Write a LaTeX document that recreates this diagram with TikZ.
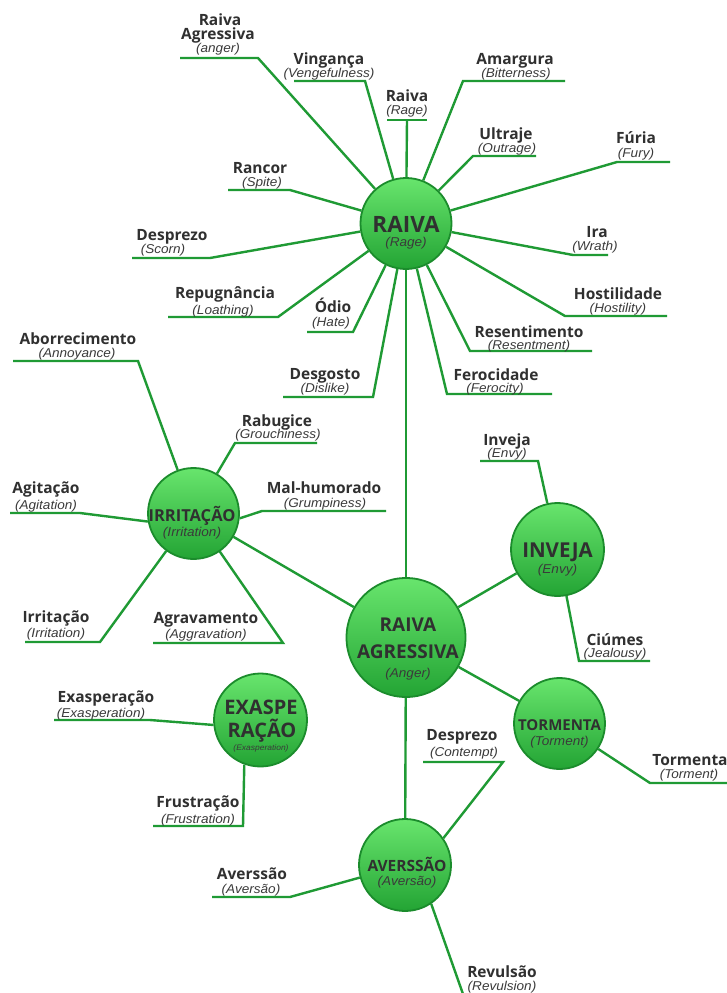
\documentclass[tikz,border=0pt]{standalone}
\usepackage{fontspec}
\newfontfamily\lblfont{Open Sans}
\newfontfamily\engfont{Liberation Sans}[FakeStretch=1.06]

\definecolor{lnc}{HTML}{1F9A34}
\definecolor{bubtop}{HTML}{68E56D}
\definecolor{bubbot}{HTML}{23A434}
\definecolor{bubrim}{HTML}{1B8C2C}
\definecolor{txt}{HTML}{303030}
\definecolor{txti}{HTML}{3A3A3A}

\pgfdeclarelayer{paper}
\pgfdeclarelayer{lines}
\pgfsetlayers{paper,lines,main}

\tikzset{
  bubble/.style={circle, draw=bubrim, line width=1.8pt, top color=bubtop,
    bottom color=bubbot, inner sep=0pt, minimum size=#1},
  conn/.style={draw=lnc, line width=2.4pt},
  bt/.style={anchor=base, inner sep=0pt, text=txt,
    font=\lblfont\bfseries\fontsize{15.5}{16}\selectfont},
  it/.style={anchor=base, inner sep=0pt, text=txti,
    font=\engfont\itshape\fontsize{12.8}{13}\selectfont},
  hb/.style={anchor=base, inner sep=0pt, text=txt,
    font=\lblfont\bfseries\fontsize{#1}{#1}\selectfont},
  hi/.style={anchor=base, inner sep=0pt, text=txti,
    font=\engfont\itshape\fontsize{#1}{#1}\selectfont},
}

% label pair: id, bold x, bold baseline, italic x, italic baseline, bold, italic
\newcommand\leafnote[7]{%
  \node[bt] (#1b) at (#2,#3) {#6};
  \node[it] (#1i) at (#4,#5) {#7};}
% spoke: id, hub, bend x, far x, underline y
\newcommand\spokeline[5]{%
  \coordinate (#1k) at (#3,#5);
  \coordinate (#1e) at (#4,#5);
  \draw[conn] (#2) -- (#1k) -- (#1e);}

\begin{document}
\begin{tikzpicture}[x=1pt,y=-1pt]
\useasboundingbox (0,0) rectangle (727,993);
\begin{pgfonlayer}{paper}
  \fill[white] (0,0) rectangle (727,993);
\end{pgfonlayer}

% ---- hubs ----
\node[bubble=91]  (raiva)  at (406,223.5) {};
\node[bubble=119] (anger)  at (406,637.5) {};
\node[bubble=91]  (irrit)  at (193.5,513.5) {};
\node[bubble=93]  (inveja) at (557.5,549.5) {};
\node[bubble=91]  (torm)   at (559.5,723.5) {};
\node[bubble=93]  (exas)   at (260.5,720) {};
\node[bubble=92]  (avers)  at (405,865) {};

\node[hb=22.5] (raivaT)  at (406,232) {RAIVA};
\node[hi=12.8] (raivaE)  at (406,246) {(Rage)};
\node[hb=19]   (angerT1) at (408,631) {RAIVA};
\node[hb=19]   (angerT2) at (408,658) {AGRESSIVA};
\node[hi=12.8] (angerE)  at (408,677) {(Anger)};
\node[hb=16.5] (irritT)  at (192,521) {IRRITAÇÃO};
\node[hi=12.8] (irritE)  at (192,536) {(Irritation)};
\node[hb=20.5] (invejaT) at (557.5,557) {INVEJA};
\node[hi=12.8] (invejaE) at (557.5,573) {(Envy)};
\node[hb=15]   (tormT)   at (559.5,730) {TORMENTA};
\node[hi=12.8] (tormE)   at (559.5,745) {(Torment)};
\node[hb=20]   (exasT1)  at (261,714) {EXASPE};
\node[hb=20]   (exasT2)  at (262,737) {RAÇÃO};
\node[hi=8]    (exasE)   at (261,750) {(Exasperation)};
\node[hb=15.5] (aversT)  at (407,871) {AVERSSÃO};
\node[hi=12.8] (aversE)  at (407,885) {(Aversão)};

% ---- labels around RAIVA ----
\node[bt] (ragb1) at (220,25) {Raiva};
\node[bt] (ragb2) at (218,39) {Agressiva};
\node[it] (ragi)  at (218,52) {(anger)};
\leafnote{vin}{329}{64}{329}{77}{Vingança}{(Vengefulness)}
\leafnote{rav}{407}{101}{407}{114}{Raiva}{(Rage)}
\leafnote{ama}{515}{64}{516}{77}{Amargura}{(Bitterness)}
\leafnote{ult}{506}{139}{507}{152}{Ultraje}{(Outrage)}
\leafnote{fur}{636}{143}{636}{157}{Fúria}{(Fury)}
\leafnote{ira}{597}{237}{595}{250}{Ira}{(Wrath)}
\leafnote{hos}{618}{299}{618}{312}{Hostilidade}{(Hostility)}
\leafnote{res}{529}{337}{529}{349}{Resentimento}{(Resentment)}
\leafnote{fer}{496}{380}{495}{392}{Ferocidade}{(Ferocity)}
\leafnote{des}{325}{379}{325}{392}{Desgosto}{(Dislike)}
\leafnote{odi}{333}{312}{331}{326}{Ódio}{(Hate)}
\leafnote{rep}{225}{298}{223}{314}{Repugnância}{(Loathing)}
\leafnote{dsp}{172}{240}{163}{253}{Desprezo}{(Scorn)}
\leafnote{ran}{260}{173}{262}{186}{Rancor}{(Spite)}

% ---- labels around IRRITAÇÃO ----
\leafnote{abo}{78}{344}{77}{357}{Aborrecimento}{(Annoyance)}
\leafnote{rab}{277}{426}{278}{438}{Rabugice}{(Grouchiness)}
\leafnote{mal}{324}{493}{325}{507}{Mal-humorado}{(Grumpiness)}
\leafnote{agi}{46}{493}{46}{509}{Agitação}{(Agitation)}
\leafnote{irr}{56}{622}{56}{637}{Irritação}{(Irritation)}
\leafnote{agr}{206}{623}{206}{638}{Agravamento}{(Aggravation)}

% ---- other labels ----
\leafnote{inv}{507}{445}{507}{457}{Inveja}{(Envy)}
\leafnote{ciu}{615}{645}{615}{657}{Ciúmes}{(Jealousy)}
\leafnote{tor}{690}{765}{689}{778}{Tormenta}{(Torment)}
\leafnote{exa}{106}{702}{101}{717}{Exasperação}{(Exasperation)}
\leafnote{fru}{198}{807}{198}{823}{Frustração}{(Frustration)}
\leafnote{dco}{462}{740}{464}{756}{Desprezo}{(Contempt)}
\leafnote{ave}{252}{879}{251}{893}{Averssão}{(Aversão)}
\leafnote{rev}{502}{977}{502}{990}{Revulsão}{(Revulsion)}

% ---- connectors ----
\begin{pgfonlayer}{lines}
  % hub to hub
  \draw[conn] (raiva) -- (anger);
  \draw[conn] (irrit) -- (anger);
  \draw[conn] (inveja) -- (anger);
  \draw[conn] (anger) -- (torm);
  \draw[conn] (anger) -- (avers);

  % RAIVA spokes
  \spokeline{rag}{raiva}{258}{180}{58}
  \spokeline{vin}{raiva}{365}{294}{81}
  \coordinate (ravk) at (407,120);
  \coordinate (ravl) at (387,120);
  \coordinate (ravr) at (427,120);
  \draw[conn] (raiva) -- (ravk);
  \draw[conn] (ravl) -- (ravr);
  \spokeline{ama}{raiva}{463}{565}{81}
  \spokeline{ult}{raiva}{473}{536}{156}
  \spokeline{fur}{raiva}{617}{670}{162}
  \spokeline{ira}{raiva}{573}{608}{255}
  \spokeline{hos}{raiva}{565}{667}{316}
  \spokeline{res}{raiva}{470}{592}{351}
  \spokeline{fer}{raiva}{447}{552}{394}
  \spokeline{des}{raiva}{373}{283}{397}
  \spokeline{odi}{raiva}{353}{307}{332}
  \spokeline{rep}{raiva}{278}{168}{317}
  \spokeline{dsp}{raiva}{210}{132}{258}
  \spokeline{ran}{raiva}{290}{228}{190}

  % IRRITAÇÃO spokes
  \spokeline{abo}{irrit}{138}{13}{361}
  \spokeline{rab}{irrit}{235}{317}{443}
  \spokeline{mal}{irrit.-6}{262}{386}{511}
  \spokeline{agi}{irrit.190}{80}{10}{513}
  \spokeline{irr}{irrit}{100}{25}{642}
  \spokeline{agr}{irrit}{283}{153}{643}

  % INVEJA, TORMENTA
  \spokeline{inv}{inveja}{538}{480}{461}
  \spokeline{ciu}{inveja}{579}{650}{661}
  \spokeline{tor}{torm}{650}{730}{783}

  % EXASPERAÇÃO
  \spokeline{exa}{exas.186}{150}{54}{720}
  \spokeline{fru}{exas.-110}{243}{153}{826}

  % AVERSSÃO
  \spokeline{dco}{avers.35}{503}{423}{762}
  \spokeline{ave}{avers}{290}{212}{897}
  \coordinate (revk) at (463,994);
  \draw[conn] (avers.-56) -- (revk);
\end{pgfonlayer}
\end{tikzpicture}
\end{document}
